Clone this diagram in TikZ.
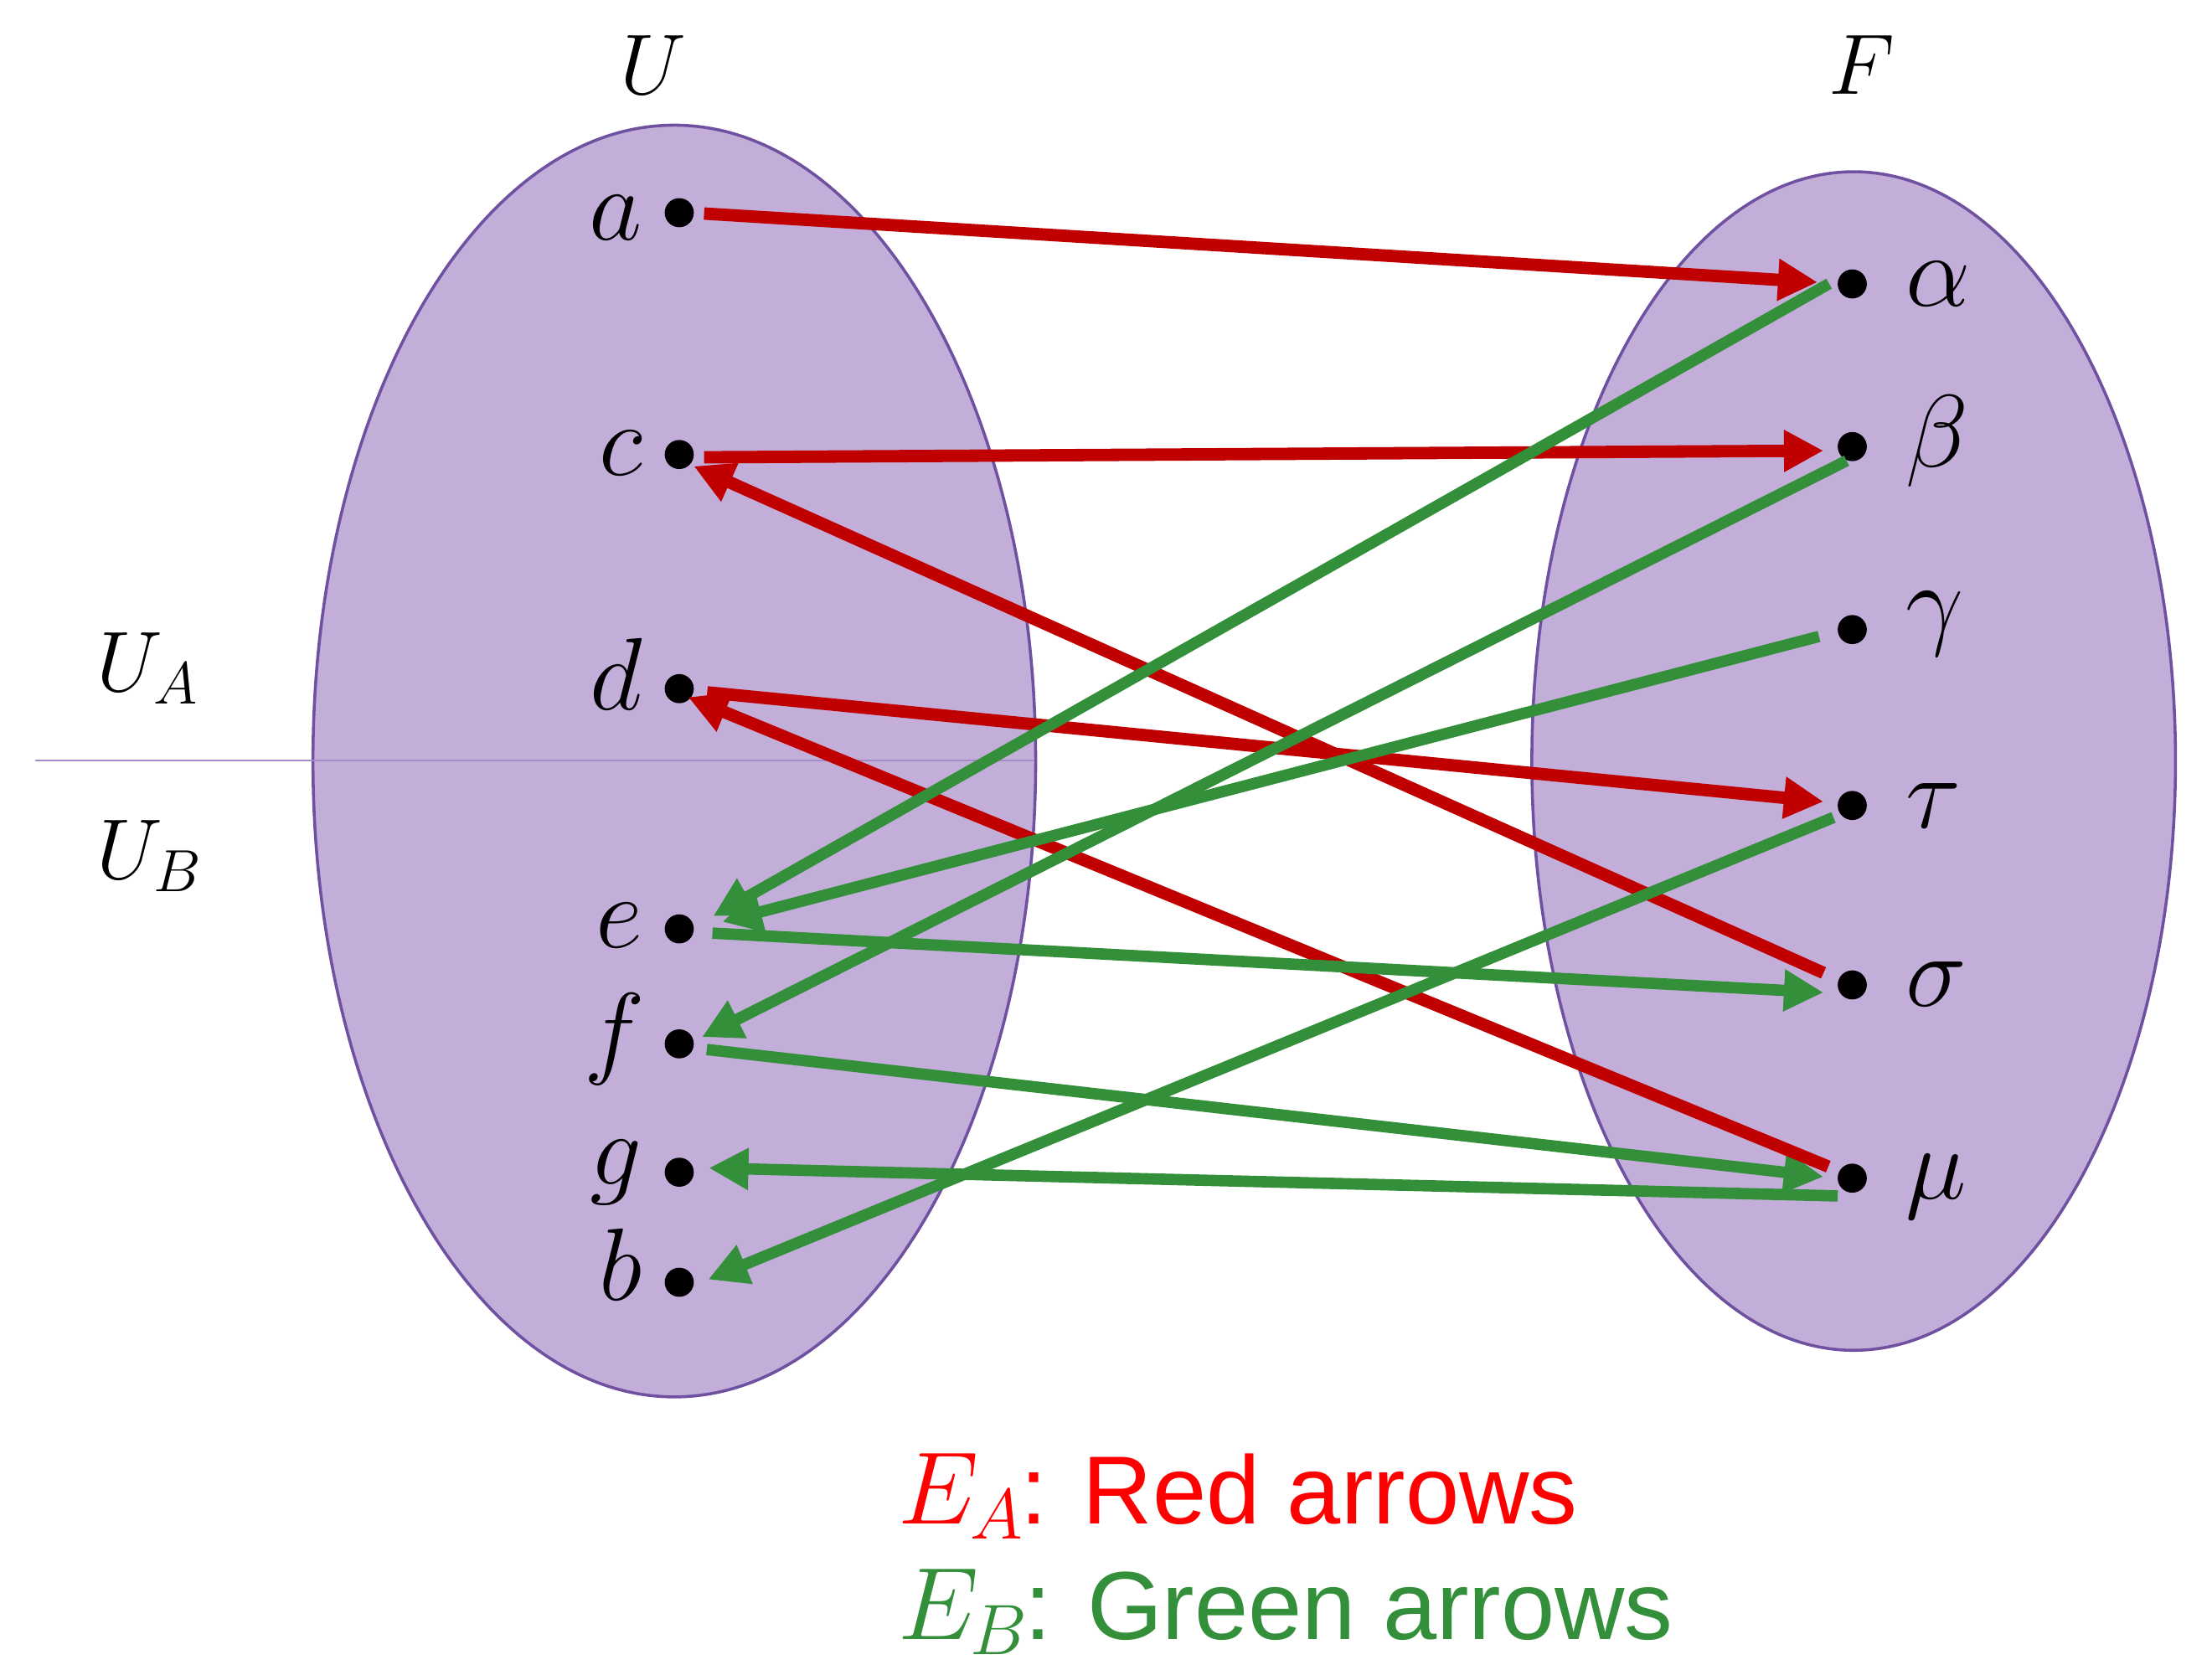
\documentclass[tikz,border=0pt]{standalone}
\usepackage{fontspec}
\setsansfont{Liberation Sans}
\usetikzlibrary{arrows.meta}
\definecolor{fillpurple}{RGB}{195,174,217}
\definecolor{edgepurple}{RGB}{112,80,160}
\definecolor{linepurple}{RGB}{165,140,200}
\definecolor{arrred}{RGB}{192,0,0}
\definecolor{arrgreen}{RGB}{51,143,57}
\definecolor{legred}{RGB}{255,0,0}
\definecolor{leggreen}{RGB}{51,143,57}
\begin{document}
\begin{tikzpicture}[x=0.01cm,y=-0.01cm,
  dot/.style={circle,fill=black,inner sep=0pt,minimum size=0.206cm},
  elbl/.style={inner sep=0pt,font=\fontsize{20.74}{25}\selectfont},
  setlbl/.style={inner sep=0pt,font=\fontsize{17.28}{22}\selectfont},
  leg/.style={inner sep=0pt,anchor=base west,font=\fontsize{19.5}{23}\sffamily},
  redarr/.style={draw=arrred,line width=2.5pt,-{Triangle[length=0.28cm,width=0.28cm]}},
  greenarr/.style={draw=arrgreen,line width=2.3pt,-{Triangle[length=0.28cm,width=0.28cm]}},
  setshape/.style={fill=fillpurple,draw=edgepurple,line width=0.6pt}]
\useasboundingbox (0,0) rectangle (1568,1180);
% sets
\path[setshape] (478,539.5) ellipse [x radius=2.56cm, y radius=4.505cm];
\path[setshape] (1314,539.5) ellipse [x radius=2.28cm, y radius=4.175cm];
\draw[linepurple,line width=0.4pt] (25,539) -- (733.5,539);
% set labels
\node[setlbl,anchor=base] (U) at (463,67) {$U$};
\node[setlbl,anchor=base] (F) at (1320,67) {$F$};
\node[setlbl,anchor=base west] (UA) at (68,490) {$U_A$};
\node[setlbl,anchor=base west] (UB) at (68,623) {$U_B$};
% left dots
\node[dot] (a) at (481.5,150.8) {};
\node[dot] (c) at (481.5,322.2) {};
\node[dot] (d) at (481.5,488.2) {};
\node[dot] (e) at (481.5,658.5) {};
\node[dot] (f) at (481.5,740) {};
\node[dot] (g) at (481.5,831) {};
\node[dot] (b) at (481.5,909) {};
% right dots
\node[dot] (alpha) at (1313,201.3) {};
\node[dot] (beta) at (1313,316.6) {};
\node[dot] (gamma) at (1313,446.3) {};
\node[dot] (tau) at (1313,571) {};
\node[dot] (sigma) at (1313,698.2) {};
\node[dot] (mu) at (1313,835.2) {};
% left labels
\node[elbl,anchor=base east] (la) at (456,170) {$a$};
\node[elbl,anchor=base east] (lc) at (456,337) {$c$};
\node[elbl,anchor=base east] (ld) at (456,503) {$d$};
\node[elbl,anchor=base east] (le) at (456,672) {$e$};
\node[elbl,anchor=base east] (lf) at (458,755) {$f$};
\node[elbl,anchor=base east] (lg) at (456,840) {$g$};
\node[elbl,anchor=base east] (lb) at (456,922) {$b$};
% right labels
\node[elbl,anchor=base west] (lalpha) at (1350,217) {$\alpha$};
\node[elbl,anchor=base west] (lbeta) at (1350,331) {$\beta$};
\node[elbl,anchor=base west] (lgamma) at (1350,451) {$\gamma$};
\node[elbl,anchor=base west] (ltau) at (1350,587) {$\tau$};
\node[elbl,anchor=base west] (lsigma) at (1350,713.5) {$\sigma$};
\node[elbl,anchor=base west] (lmu) at (1350,850) {$\mu$};
% red arrows (E_A)
\draw[redarr] ([shift={(17.6,0.6)}]a.center) -- ([shift={(-24.6,-1.2)}]alpha.center);
\draw[redarr] ([shift={(17.6,2)}]c.center) -- ([shift={(-20.4,2.9)}]beta.center);
\draw[redarr] ([shift={(-20.4,-8.5)}]sigma.center) -- ([shift={(10.3,8.3)}]c.center);
\draw[redarr] ([shift={(19.8,2.6)}]d.center) -- ([shift={(-20.4,-2.7)}]tau.center);
% green arrows (E_B)
\draw[greenarr] ([shift={(19.5,4)}]f.center) -- ([shift={(-20.4,-1)}]mu.center);
\draw[greenarr] ([shift={(-10.3,12.6)}]mu.center) -- ([shift={(21,-3)}]g.center);
\draw[redarr] ([shift={(-17,-8.2)}]mu.center) -- ([shift={(6.3,6)}]d.center);
\draw[greenarr] ([shift={(-16.4,-0.2)}]alpha.center) -- ([shift={(24,-9)}]e.center);
\draw[greenarr] ([shift={(-4,10)}]beta.center) -- ([shift={(16.1,-4.8)}]f.center);
\draw[greenarr] ([shift={(-23.6,4.9)}]gamma.center) -- ([shift={(30.5,-5)}]e.center);
\draw[greenarr] ([shift={(-13.3,8.5)}]tau.center) -- ([shift={(20.5,-2)}]b.center);
\draw[greenarr] ([shift={(23.5,3)}]e.center) -- ([shift={(-20.4,5.4)}]sigma.center);
% legend
\node[leg,text=legred] (legA) at (636,1080) {$E_{\kern-0.5pt A}$\kern-1pt: Red arrows};
\node[leg,text=leggreen] (legB) at (636,1162) {$E_{\kern-0.5pt B}$\kern-1pt: Green arrows};
\end{tikzpicture}
\end{document}
